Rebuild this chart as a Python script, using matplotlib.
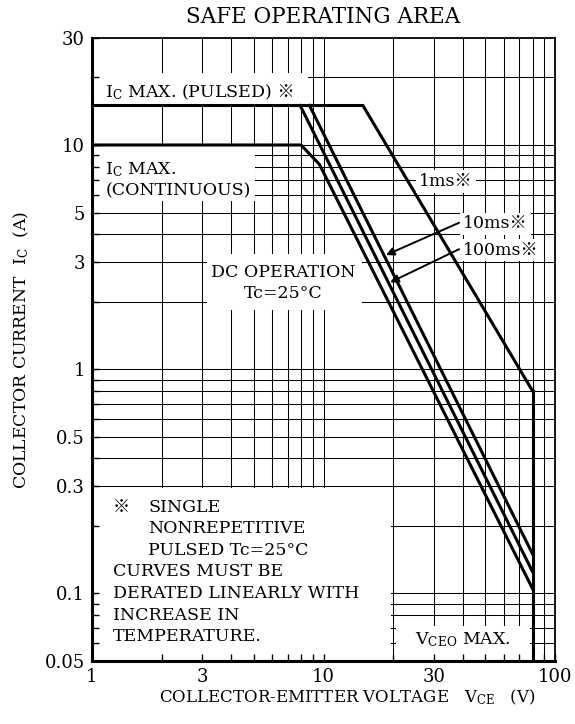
import matplotlib
matplotlib.use("Agg")
import matplotlib.pyplot as plt
from matplotlib.patches import Rectangle

plt.rcParams['font.family'] = ['DejaVu Serif', 'Noto Sans CJK JP']
plt.rcParams['mathtext.fontset'] = 'dejavuserif'

# curve data
ms1_v = [1, 14.8, 80]
ms1_i = [15, 15, 0.8]
ms10_v = [8.7, 80]
ms10_i = [15, 0.15]
ms100_v = [7.93, 80]
ms100_i = [15, 0.125]
dc_v = [1, 8.0, 9.6, 80]
dc_i = [10, 10, 8.2, 0.105]
vceo_max = 80
vceo_i = [0.05, 0.8]

x_ticks = [1, 3, 10, 30, 100]
y_ticks = [0.05, 0.1, 0.3, 0.5, 1, 3, 5, 10, 30]
y_tick_labels = ['0.05', '0.1', '0.3', '0.5', '1', '3', '5', '10', '30']

note_lines = [
    ('※', 0.045), ('SINGLE', 0.121),
]
note_body = [
    ('NONREPETITIVE', 0.121),
    ('PULSED Tc=25°C', 0.121),
    ('CURVES MUST BE', 0.045),
    ('DERATED LINEARLY WITH', 0.045),
    ('INCREASE IN', 0.045),
    ('TEMPERATURE.', 0.045),
]

fig = plt.figure(figsize=(5.75, 7.24), dpi=100)
ax = fig.add_axes([92 / 575, 63 / 724, 463 / 575, 623 / 724])
ax.set_xscale('log')
ax.set_yscale('log')
ax.set_xlim(1, 100)
ax.set_ylim(0.05, 30)

# log grid, drawn by hand so the white label boxes can hide it
grid_x = [m * 10 ** e for e in range(0, 2) for m in range(2, 11)]
grid_y = [m * 10 ** e for e in range(-2, 2) for m in range(1, 10)]
grid_y = [g for g in grid_y if 0.05 < g < 30]
for gx in grid_x:
    ax.axvline(gx, color='black', lw=0.75, zorder=0.5)
for gy in grid_y:
    ax.axhline(gy, color='black', lw=0.75, zorder=0.5)

# white areas behind the labels
boxes = [
    (1, 15, 8.6, 21),       # pulsed
    (1, 5.65, 5.05, 10),     # continuous
    (3.14, 1.83, 14.7, 3.25),  # DC operation
    (1, 0.05, 19.6, 0.296),  # note
    (20.6, 0.05, 78, 0.0715),  # VCEO
]
for x0, y0, x1, y1 in boxes:
    ax.add_patch(Rectangle((x0, y0), x1 - x0, y1 - y0, facecolor='white',
                           edgecolor='none', zorder=1))

lw = 2.2
ax.plot(ms1_v, ms1_i, color='black', lw=lw, zorder=3, solid_joinstyle='miter')
ax.plot(ms10_v, ms10_i, color='black', lw=lw, zorder=3)
ax.plot(ms100_v, ms100_i, color='black', lw=lw, zorder=3)
ax.plot(dc_v, dc_i, color='black', lw=lw, zorder=3, solid_joinstyle='miter')
ax.plot([vceo_max, vceo_max], vceo_i, color='black', lw=lw, zorder=3)

fs = 12.5
t = ax.text(1.14, 17.1, r'$\mathrm{I_C}$ MAX. (PULSED)', fontsize=fs, va='center', zorder=4)
ax.annotate(' ※', xy=(1, 0.5), xycoords=t, fontsize=fs, va='center', zorder=4)
ax.text(1.14, 7.0, '$\\mathrm{I_C}$ MAX.\n(CONTINUOUS)', fontsize=fs, va='center',
        linespacing=1.25, zorder=4)
ax.text(6.68, 2.42, 'DC OPERATION\nTc=25°C', fontsize=fs, ha='center', va='center',
        multialignment='center', linespacing=1.3, zorder=4)

wb = dict(facecolor='white', edgecolor='none', pad=2)
ax.text(25.9, 6.88, '1ms※', fontsize=fs, va='center', bbox=wb, zorder=4)
ax.text(40.1, 4.45, '10ms※', fontsize=fs, va='center', bbox=wb, zorder=4)
ax.text(40.1, 3.4, '100ms※', fontsize=fs, va='center', bbox=wb, zorder=4)
arrow = dict(arrowstyle='-|>', color='black', lw=1.4, mutation_scale=12,
             shrinkA=0, shrinkB=0)
ax.annotate('', xy=(18.6, 3.23), xytext=(38.5, 4.5), arrowprops=arrow, zorder=4)
ax.annotate('', xy=(19.4, 2.44), xytext=(38.5, 3.43), arrowprops=arrow, zorder=4)

y0 = 0.247
step = 0.0347
for txt, xf in note_lines:
    ax.text(xf, y0, txt, fontsize=fs, va='center', transform=ax.transAxes, zorder=4)
for k, (txt, xf) in enumerate(note_body):
    ax.text(xf, y0 - step * (k + 1), txt, fontsize=fs, va='center',
            transform=ax.transAxes, zorder=4)

ax.text(0.698, 0.034, r'$\mathrm{V_{CEO}}$ MAX.', fontsize=fs, va='center',
        transform=ax.transAxes, zorder=4)

ax.set_xticks(x_ticks)
ax.set_xticklabels([str(v) for v in x_ticks])
ax.set_yticks(y_ticks)
ax.set_yticklabels(y_tick_labels)
ax.set_xticks(grid_x, minor=True)
ax.set_yticks(grid_y, minor=True)
ax.xaxis.set_minor_formatter(plt.NullFormatter())
ax.yaxis.set_minor_formatter(plt.NullFormatter())
ax.tick_params(which='both', direction='in', length=5, width=1, labelsize=13,
               color='black')
ax.tick_params(axis='x', pad=5)
ax.tick_params(axis='y', pad=5)

for side in ['left', 'bottom']:
    ax.spines[side].set_linewidth(2.2)
for side in ['top', 'right']:
    ax.spines[side].set_linewidth(1.3)

ax.set_ylabel(r'COLLECTOR CURRENT  $\mathrm{I_C}$  (A)', fontsize=12.4)
ax.yaxis.set_label_coords(-0.132, 0.5)
fig.text(347 / 575, 1 - 697 / 724, r'COLLECTOR-EMITTER VOLTAGE   $\mathrm{V_{CE}}$   (V)',
         fontsize=12, ha='center', va='center')
fig.text(323 / 575, 1 - 17 / 724, 'SAFE OPERATING AREA', fontsize=15.5,
         ha='center', va='center')

fig.savefig('out.png', dpi=100)
